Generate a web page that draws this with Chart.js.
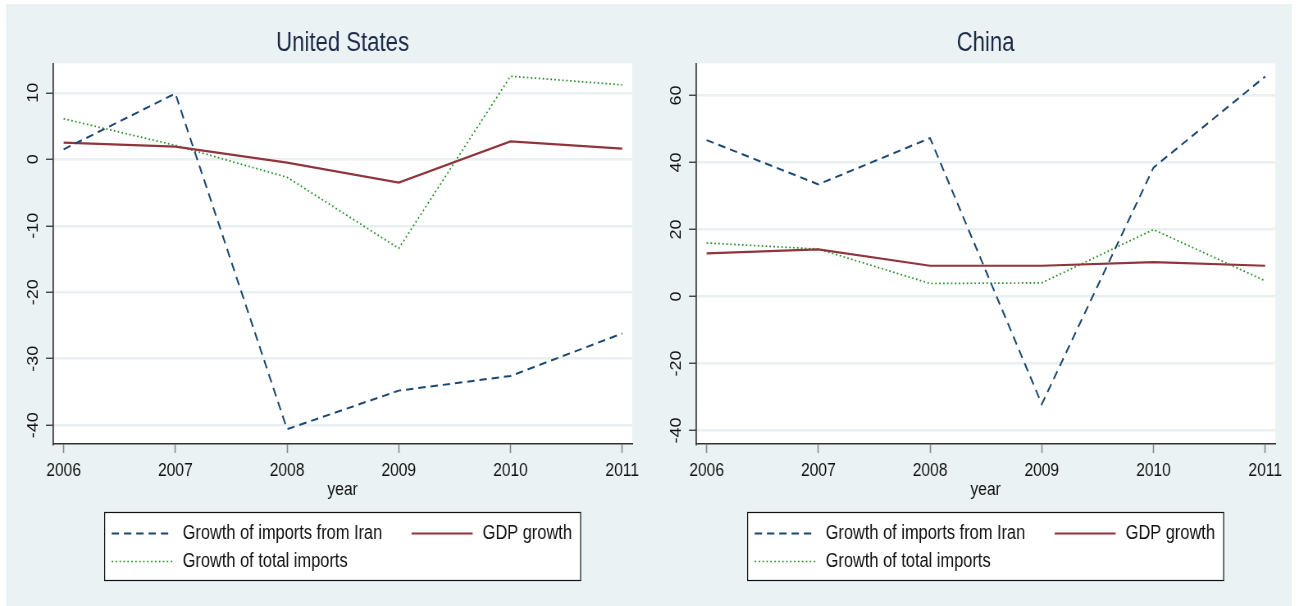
<!DOCTYPE html>
<html>
<head>
<meta charset="utf-8">
<title>Import growth</title>
<script src="https://cdn.jsdelivr.net/npm/chart.js@4.4.1/dist/chart.umd.min.js"></script>
<style>
    html, body { margin: 0; padding: 0; background: #fff; }
    body { width: 1298px; height: 606px; position: relative; overflow: hidden; }
    #bg { position: absolute; left: 6px; top: 4px; width: 1286px; height: 602px; background: #eaf2f3; }
    .panel { position: absolute; top: 0; width: 650px; height: 606px; overflow: visible; }
    #us { left: 0; }
    #cn { left: 643px; }
    /* graphs are drawn wide and pressed horizontally, giving the condensed lettering */
    .panel canvas { display: block; transform: scaleX(0.82); transform-origin: 0 0; }
</style>
</head>
<body>
<div id="bg"></div>
<div class="panel" id="us"><canvas id="us_chart" width="793" height="606"></canvas></div>
<div class="panel" id="cn"><canvas id="cn_chart" width="793" height="606"></canvas></div>
<script>
// yearly growth rates, percent
const years = [2006, 2007, 2008, 2009, 2010, 2011]
const series_names = ["Growth of imports from Iran", "GDP growth", "Growth of total imports"]

const us_iran = [1.5, 9.9, -40.6, -34.8, -32.6, -26.2]
const us_gdp = [2.5, 1.9, -0.5, -3.5, 2.7, 1.6]
const us_total = [6.1, 2.1, -2.7, -13.4, 12.5, 11.2]

const cn_iran = [46.7, 33.5, 47.3, -32.1, 38.5, 65.7]
const cn_gdp = [12.9, 14.1, 9.2, 9.2, 10.3, 9.2]
const cn_total = [16.0, 14.2, 3.9, 4.1, 20.0, 4.7]

const us_ticks = [-40, -30, -20, -10, 0, 10]
const cn_ticks = [-40, -20, 0, 20, 40, 60]

// same factor as the css scaleX above; horizontal sizes below are in screen px / squeeze
const squeeze = 0.82
const font_family = "'Liberation Sans', Arial, sans-serif"

Chart.defaults.font.family = font_family
Chart.defaults.color = "#111"

const line_styles = [
    { "borderColor": "#1a476f", "borderWidth": 2, "borderDash": [9, 6] },
    { "borderColor": "#90353b", "borderWidth": 2.2, "borderDash": [] },
    { "borderColor": "#1f8f1f", "borderWidth": 1.7, "borderDash": [1.8, 3] }
]

function toPoints(values) {
    return years.map((yr, i) => ({ "x": yr, "y": values[i] }))
}

// white plot region behind grid and lines; title centred over the plot, not the canvas
const plotBackground = {
    id: "plotBackground",
    afterLayout(chart) {
        chart.titleBlock.left = chart.chartArea.left
        chart.titleBlock.right = chart.chartArea.right
    },
    beforeDraw(chart) {
        const a = chart.chartArea
        chart.ctx.save()
        chart.ctx.fillStyle = "#fff"
        chart.ctx.fillRect(a.left, a.top, a.right - a.left, a.bottom - a.top)
        chart.ctx.restore()
    }
}

// y tick labels read bottom-to-top
const rotatedYLabels = {
    id: "rotatedYLabels",
    afterDraw(chart) {
        const scale = chart.scales.y
        const ctx = chart.ctx
        ctx.save()
        ctx.font = "18px " + font_family
        ctx.fillStyle = "#111"
        ctx.textAlign = "center"
        ctx.textBaseline = "middle"
        scale.ticks.forEach(t => {
            ctx.save()
            ctx.translate(chart.chartArea.left - 19.5 / squeeze, scale.getPixelForValue(t.value))
            ctx.rotate(-Math.PI / 2)
            ctx.fillText(String(t.value), 0, 0)
            ctx.restore()
        })
        ctx.restore()
    }
}

// two-column legend inside a bordered box under the plot
const boxedLegend = {
    id: "boxedLegend",
    afterDraw(chart, args, opts) {
        const ctx = chart.ctx
        const a = chart.chartArea
        const w = 476 / squeeze, h = 68
        const left = (a.left + a.right) / 2 - w / 2
        const top = opts.top + 0.5
        const slots = [[7, 0], [307, 0], [7, 1]]
        ctx.save()
        ctx.fillStyle = "#fff"
        ctx.fillRect(left, top, w, h)
        ctx.strokeStyle = "#111"
        ctx.lineWidth = 1.2
        ctx.strokeRect(left, top, w, h)
        ctx.font = "20px " + font_family
        ctx.textBaseline = "middle"
        ctx.textAlign = "left"
        chart.data.datasets.forEach((ds, i) => {
            const x = left + slots[i][0] / squeeze
            const y = top + 21 + slots[i][1] * 28
            ctx.save()
            ctx.strokeStyle = ds.borderColor
            ctx.lineWidth = ds.borderWidth
            ctx.setLineDash(ds.borderDash)
            ctx.beginPath()
            ctx.moveTo(x, y)
            ctx.lineTo(x + 61 / squeeze, y)
            ctx.stroke()
            ctx.restore()
            ctx.fillStyle = "#111"
            ctx.fillText(ds.label, x + 71 / squeeze, y)
        })
        ctx.restore()
    }
}

function createPanel(element_id, title, series, y_ticks, y_min, y_max) {
    const datasets = series.map((values, i) => Object.assign({
        "label": series_names[i],
        "data": toPoints(values),
        "pointRadius": 0,
        "tension": 0,
        "fill": false
    }, line_styles[i]))

    return new Chart(document.getElementById(element_id).getContext("2d"), {
        "type": "line",
        "data": { "datasets": datasets },
        "plugins": [plotBackground, rotatedYLabels, boxedLegend],
        "options": {
            "responsive": false,
            "animation": false,
            "devicePixelRatio": 1,
            "layout": { "padding": { "left": 0, "right": 18 / squeeze, "top": 0, "bottom": 105 } },
            "plugins": {
                "legend": { "display": false },
                "tooltip": { "enabled": false },
                "title": {
                    "display": true,
                    "text": title,
                    "color": "#1c2a48",
                    "font": { "size": 27, "weight": "normal" },
                    "padding": { "top": 27, "bottom": 4 }
                },
                "boxedLegend": { "top": 512 }
            },
            "scales": {
                "x": {
                    "type": "linear",
                    "min": 2005.905,
                    "max": 2011.09,
                    "afterBuildTicks": s => { s.ticks = years.map(v => ({ "value": v })) },
                    "afterFit": s => { s.height = 57 },
                    "ticks": {
                        "callback": v => String(v),
                        "font": { "size": 19 },
                        "padding": 6,
                        "maxRotation": 0,
                        "autoSkip": false
                    },
                    "grid": {
                        "drawOnChartArea": false,
                        "tickLength": 9,
                        "tickColor": "#888",
                        "tickWidth": 1.6
                    },
                    "border": { "display": true, "color": "#333", "width": 1.5 },
                    "title": {
                        "display": true,
                        "text": "year",
                        "font": { "size": 19 },
                        "padding": 0
                    }
                },
                "y": {
                    "min": y_min,
                    "max": y_max,
                    "afterBuildTicks": s => { s.ticks = y_ticks.map(v => ({ "value": v })) },
                    "afterFit": s => { s.width = 53 / squeeze },
                    "ticks": { "display": false },
                    "grid": {
                        "color": "#e8f0f2",
                        "lineWidth": 2.5,
                        "tickLength": 7 / squeeze,
                        "tickColor": "#333",
                        "tickWidth": 1.3
                    },
                    "border": { "display": true, "color": "#333", "width": 1.7 }
                }
            }
        }
    })
}

createPanel("us_chart", "United States", [us_iran, us_gdp, us_total], us_ticks, -42.83, 14.43)
createPanel("cn_chart", "China", [cn_iran, cn_gdp, cn_total], cn_ticks, -44.0, 69.6)
</script>
</body>
</html>
